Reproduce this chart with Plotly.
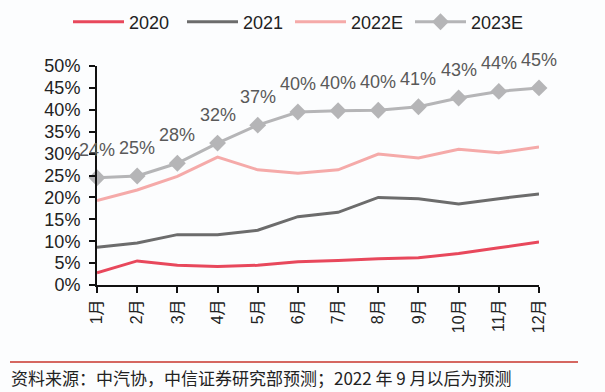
import plotly.graph_objects as go

months = ["1月", "2月", "3月", "4月", "5月", "6月", "7月", "8月", "9月", "10月", "11月", "12月"]
s2020 = [2.8, 5.5, 4.5, 4.2, 4.5, 5.3, 5.6, 6.0, 6.2, 7.2, 8.5, 9.8]
s2021 = [8.6, 9.6, 11.5, 11.5, 12.5, 15.6, 16.6, 20.0, 19.7, 18.5, 19.7, 20.8]
s2022E = [19.3, 21.7, 24.8, 29.2, 26.3, 25.5, 26.3, 29.9, 29.0, 31.0, 30.2, 31.5]
s2023E = [24.5, 24.9, 27.8, 32.4, 36.5, 39.5, 39.8, 39.9, 40.7, 42.7, 44.2, 45.0]
labels2023E = ["24%", "25%", "28%", "32%", "37%", "40%", "40%", "40%", "41%", "43%", "44%", "45%"]
yticks = [0, 5, 10, 15, 20, 25, 30, 35, 40, 45, 50]

FONT = "Liberation Sans, Arial, Noto Sans CJK SC"
xs = list(range(len(months)))

fig = go.Figure()
fig.add_trace(go.Scatter(x=xs, y=s2020, name="2020", mode="lines", legendwidth=48,
                         line=dict(color="#e8485c", width=3)))
fig.add_trace(go.Scatter(x=xs, y=s2021, name="2021", mode="lines", legendwidth=42,
                         line=dict(color="#6c6c6c", width=3)))
fig.add_trace(go.Scatter(x=xs, y=s2022E, name="2022E", mode="lines", legendwidth=54,
                         line=dict(color="#f5aaa9", width=3)))
fig.add_trace(go.Scatter(x=xs, y=s2023E, name="2023E", mode="lines+markers", legendwidth=55,
                         line=dict(color="#b5b5b7", width=3),
                         marker=dict(symbol="diamond", size=13, color="#b5b5b7")))

for x, y, t in zip(xs, s2023E, labels2023E):
    fig.add_annotation(x=x, y=y, text=t, showarrow=False, yshift=28,
                       font=dict(family=FONT, size=18, color="#595959"))

fig.add_shape(type="line", xref="paper", yref="paper",
              x0=-87/442, x1=(578-97)/442, y0=-(362-285)/219, y1=-(362-285)/219,
              line=dict(color="#c8352c", width=1.5))
fig.add_annotation(xref="paper", yref="paper", x=-88/442, y=-(377-285)/219,
                   xanchor="left", yanchor="middle", showarrow=False,
                   text="资料来源：中汽协，中信证券研究部预测；2022 年 9 月以后为预测",
                   font=dict(family="Noto Sans CJK SC", size=17, color="#222222"))

fig.update_layout(
    width=605, height=392,
    margin=dict(l=97, r=66, t=66, b=107, autoexpand=False),
    paper_bgcolor="#fcfdfe", plot_bgcolor="#fcfdfe",
    showlegend=True,
    legend=dict(orientation="h", xref="paper", yref="paper",
                x=(68-97)/442, y=1+(66-22)/219, xanchor="left", yanchor="middle",
                font=dict(family=FONT, size=18, color="#222222"),
                itemwidth=51, bgcolor="rgba(0,0,0,0)"),
    xaxis=dict(range=[0, 11], tickvals=xs, ticktext=months, tickangle=-90,
               showgrid=False, zeroline=False, showline=True, linecolor="#111111",
               linewidth=2, ticks="outside", ticklen=6, tickwidth=2, tickcolor="#111111",
               tickfont=dict(family=FONT, size=16, color="#222222")),
    yaxis=dict(range=[0, 50], tickvals=yticks, ticktext=[f"{v}%" for v in yticks],
               showgrid=False, zeroline=False, showline=True, linecolor="#111111",
               linewidth=2, ticks="outside", ticklen=6, tickwidth=2, tickcolor="#111111",
               ticklabelstandoff=5,
               tickfont=dict(family=FONT, size=18, color="#222222")),
)
for tr in fig.data:
    tr.cliponaxis = False

fig.write_html("out.html", config={"displayModeBar": False},
               post_script="document.body.style.margin='0px';document.body.style.padding='0px';")
